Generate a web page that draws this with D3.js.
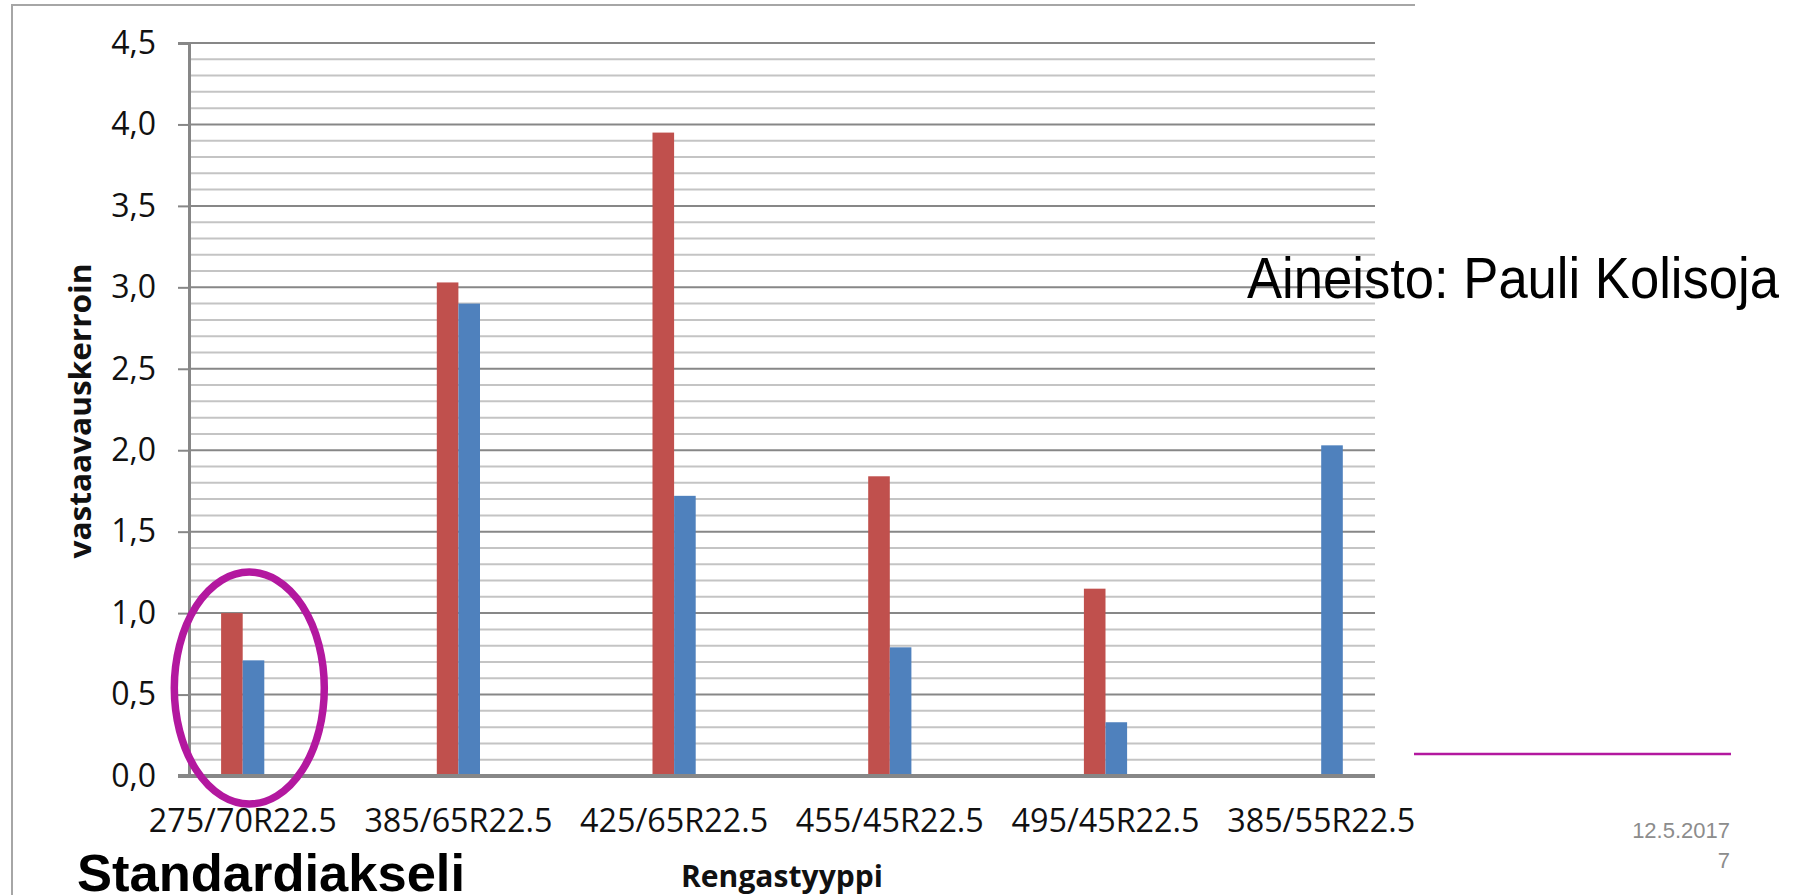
<!DOCTYPE html>
<html>
<head>
<meta charset="utf-8">
<script src="https://cdn.jsdelivr.net/npm/d3@7/dist/d3.min.js"></script>
<style>
  html, body { margin: 0; padding: 0; background: #ffffff; }
  svg { display: block; }
</style>
</head>
<body>
<svg id="chart" width="1793" height="895"></svg>
<script>
// Tyre types on the x axis
const categories = ["275/70R22.5", "385/65R22.5", "425/65R22.5", "455/45R22.5", "495/45R22.5", "385/55R22.5"];
// Two series of equivalence factors per tyre type
const seriesNames = ["punainen", "sininen"];
const redValues  = [1.00, 3.03, 3.95, 1.84, 1.15, 0.00];
const blueValues = [0.71, 2.90, 1.72, 0.79, 0.33, 2.03];
// Major y ticks
const yTickValues = [0, 0.5, 1.0, 1.5, 2.0, 2.5, 3.0, 3.5, 4.0, 4.5];

const colors = { punainen: "#C0504D", sininen: "#4F81BD" };
const accent = "#B3189F";

const svg = d3.select("#chart");

// Plot frame
const plotLeft = 189, plotRight = 1375;
const y = d3.scaleLinear().domain([0, 4.5]).range([776, 43]);

// Category bands (bars are narrow, Excel-style wide gaps)
const step = 215.7;
const x = d3.scaleBand().domain(categories)
  .range([242.7 - step / 2, 242.7 - step / 2 + step * categories.length])
  .paddingInner(0).paddingOuter(0);
const barW = 21.6;
const xs = d3.scaleBand().domain(seriesNames)
  .range([x.bandwidth() / 2 - barW, x.bandwidth() / 2 + barW]);

const rows = categories.map((c, i) => ({ cat: c, punainen: redValues[i], sininen: blueValues[i] }));

// Outer chart border (left and top edges visible)
svg.append("path")
  .attr("d", "M12,895 L12,5 L1415,5")
  .attr("fill", "none").attr("stroke", "#a6a6a6").attr("stroke-width", 2);

// Minor gridlines every 0.1
const grid = svg.append("g");
grid.selectAll("line.minor")
  .data(y.ticks(45).filter(v => Math.abs(v * 2 - Math.round(v * 2)) > 1e-6))
  .join("line")
  .attr("class", "minor")
  .attr("x1", plotLeft).attr("x2", plotRight)
  .attr("y1", d => y(d)).attr("y2", d => y(d))
  .attr("stroke", "#c4c4c4").attr("stroke-width", 2);

// Major gridlines every 0.5
grid.selectAll("line.major")
  .data(yTickValues.filter(v => v > 0))
  .join("line")
  .attr("class", "major")
  .attr("x1", plotLeft).attr("x2", plotRight)
  .attr("y1", d => y(d)).attr("y2", d => y(d))
  .attr("stroke", "#878787").attr("stroke-width", 2);

// Y axis
const fi = d3.formatLocale({ decimal: ",", thousands: " ", grouping: [3], currency: ["", "€"] });
const yAxis = d3.axisLeft(y).tickValues(yTickValues).tickSize(11).tickPadding(22).tickFormat(fi.format(".1f"));
const gy = svg.append("g").attr("transform", `translate(${plotLeft},0)`).call(yAxis);
gy.select(".domain").attr("stroke", "#878787").attr("stroke-width", 3);
gy.selectAll(".tick line").attr("stroke", "#878787").attr("stroke-width", 2);
gy.selectAll(".tick text")
  .attr("font-family", "'Open Sans', sans-serif").attr("font-size", 32).attr("fill", "#111");

// Bars
const groups = svg.append("g").selectAll("g")
  .data(rows).join("g")
  .attr("transform", d => `translate(${x(d.cat)},0)`);
groups.selectAll("rect")
  .data(d => seriesNames.map(k => ({ key: k, value: d[k] })))
  .join("rect")
  .attr("x", d => xs(d.key))
  .attr("width", xs.bandwidth())
  .attr("y", d => y(d.value))
  .attr("height", d => y(0) - y(d.value))
  .attr("fill", d => colors[d.key]);

// Baseline (0 line)
svg.append("line")
  .attr("x1", plotLeft - 11).attr("x2", plotRight)
  .attr("y1", y(0)).attr("y2", y(0))
  .attr("stroke", "#878787").attr("stroke-width", 4);

// X axis labels
const gx = svg.append("g").attr("transform", `translate(0,${y(0)})`)
  .call(d3.axisBottom(x).tickSize(0));
gx.select(".domain").remove();
gx.selectAll(".tick text")
  .attr("dy", null).attr("y", 56)
  .attr("font-family", "'Open Sans', sans-serif").attr("font-size", 32)
  .attr("textLength", 188).attr("lengthAdjust", "spacingAndGlyphs")
  .attr("fill", "#111");

// Axis titles
svg.append("text")
  .attr("transform", `translate(91,411) rotate(-90)`)
  .attr("text-anchor", "middle")
  .attr("font-family", "'Open Sans', sans-serif").attr("font-weight", "bold").attr("font-size", 30)
  .attr("textLength", 295).attr("lengthAdjust", "spacingAndGlyphs")
  .attr("fill", "#111").text("vastaavauskerroin");
svg.append("text")
  .attr("x", 782).attr("y", 887).attr("text-anchor", "middle")
  .attr("font-family", "'Open Sans', sans-serif").attr("font-weight", "bold").attr("font-size", 30)
  .attr("textLength", 202).attr("lengthAdjust", "spacingAndGlyphs")
  .attr("fill", "#111").text("Rengastyyppi");

// Highlight ellipse around the standard axle tyre
svg.append("ellipse")
  .attr("cx", x(categories[0]) + x.bandwidth() / 2 + 6.6)
  .attr("cy", y(0.54))
  .attr("rx", 75).attr("ry", 116)
  .attr("fill", "none").attr("stroke", accent).attr("stroke-width", 7.5);

svg.append("text")
  .attr("x", 77).attr("y", 891)
  .attr("font-family", "'Liberation Sans', Arial, sans-serif").attr("font-weight", "bold").attr("font-size", 52)
  .attr("textLength", 388).attr("lengthAdjust", "spacingAndGlyphs")
  .attr("fill", "#000").text("Standardiakseli");

// Source note
svg.append("text")
  .attr("x", 1247).attr("y", 298)
  .attr("font-family", "'Liberation Sans', Arial, sans-serif").attr("font-size", 57)
  .attr("textLength", 532).attr("lengthAdjust", "spacingAndGlyphs")
  .attr("fill", "#000").text("Aineisto: Pauli Kolisoja");

// Slide footer: divider line, date and page number
svg.append("line")
  .attr("x1", 1414).attr("x2", 1731).attr("y1", 754).attr("y2", 754)
  .attr("stroke", accent).attr("stroke-width", 2.5);
svg.append("text")
  .attr("x", 1730).attr("y", 838).attr("text-anchor", "end")
  .attr("font-family", "'Liberation Sans', Arial, sans-serif").attr("font-size", 22)
  .attr("fill", "#8c8c8c").text("12.5.2017");
svg.append("text")
  .attr("x", 1730).attr("y", 868).attr("text-anchor", "end")
  .attr("font-family", "'Liberation Sans', Arial, sans-serif").attr("font-size", 22)
  .attr("fill", "#8c8c8c").text("7");
</script>
</body>
</html>
